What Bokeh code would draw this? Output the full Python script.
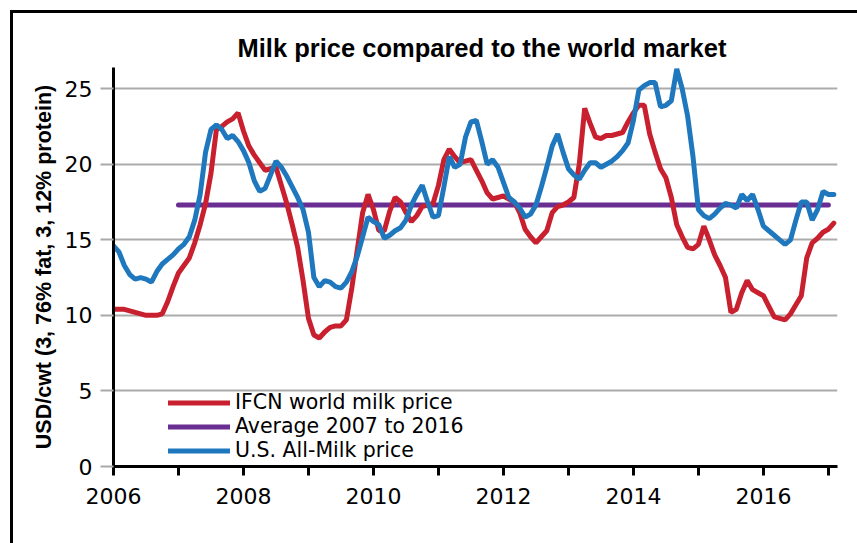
import pandas as pd
from bokeh.plotting import figure
from bokeh.models import (FixedTicker, Legend, LegendItem, Range1d, InlineStyleSheet)
from bokeh.embed import file_html
from bokeh.resources import INLINE

# ---- data -------------------------------------------------------------
months = pd.date_range("2006-01-01", periods=134, freq="MS")
years = [d.year + (d.month - 1) / 12 for d in months]

ifcn_price = [
    10.4, 10.4, 10.4, 10.3, 10.2, 10.1, 10.0, 10.0, 10.0, 10.1, 10.9, 11.9,   # 2006
    12.8, 13.3, 13.8, 14.8, 16.0, 17.4, 19.4, 22.3, 22.5, 22.8, 23.0, 23.4,   # 2007
    22.2, 21.2, 20.6, 20.1, 19.6, 19.7, 19.8, 18.6, 17.4, 16.0, 14.5, 12.3,   # 2008
    9.8, 8.7, 8.5, 8.9, 9.2, 9.3, 9.3, 9.7, 11.8, 14.3, 16.8, 18.0,           # 2009
    17.0, 15.6, 15.6, 16.9, 17.8, 17.5, 16.8, 16.2, 16.6, 17.2, 17.3, 17.4,   # 2010
    18.6, 20.3, 21.0, 20.5, 20.1, 20.2, 20.3, 19.6, 18.9, 18.1, 17.7, 17.8,   # 2011
    17.9, 17.7, 17.5, 16.8, 15.7, 15.2, 14.8, 15.2, 15.6, 16.8, 17.2, 17.3,   # 2012
    17.5, 17.8, 20.0, 23.7, 22.7, 21.8, 21.7, 21.9, 21.9, 22.0, 22.1, 22.8,   # 2013
    23.4, 23.9, 23.9, 22.0, 20.8, 19.7, 19.1, 17.8, 16.0, 15.2, 14.5, 14.4,   # 2014
    14.7, 15.9, 15.0, 14.0, 13.3, 12.5, 10.2, 10.4, 11.5, 12.3, 11.7, 11.5,   # 2015
    11.3, 10.6, 9.9, 9.8, 9.7, 10.1, 10.7, 11.3, 13.8, 14.8, 15.1, 15.5,      # 2016
    15.7, 16.1,                                                               # 2017
]

us_all_milk = [
    14.6, 14.2, 13.3, 12.7, 12.4, 12.5, 12.4, 12.2, 12.9, 13.4, 13.7, 14.0,   # 2006
    14.4, 14.7, 15.2, 16.3, 18.0, 20.8, 22.3, 22.6, 22.3, 21.7, 21.9, 21.5,   # 2007
    20.9, 20.1, 18.9, 18.2, 18.4, 19.3, 20.2, 19.8, 19.2, 18.5, 17.8, 17.0,   # 2008
    15.5, 12.5, 11.9, 12.3, 12.2, 11.9, 11.8, 12.2, 12.9, 13.9, 15.2, 16.5,   # 2009
    16.2, 16.0, 15.1, 15.3, 15.6, 15.8, 16.3, 17.3, 18.0, 18.6, 17.5, 16.5,   # 2010
    16.6, 18.5, 20.5, 19.8, 20.0, 21.8, 22.8, 22.9, 21.5, 20.0, 20.3, 19.8,   # 2011
    18.8, 17.8, 17.5, 17.1, 16.5, 16.7, 17.3, 18.5, 19.8, 21.2, 22.0, 20.8,   # 2012
    19.7, 19.3, 19.0, 19.6, 20.1, 20.1, 19.8, 20.0, 20.2, 20.5, 20.9, 21.4,   # 2013
    22.9, 24.9, 25.2, 25.4, 25.4, 23.8, 23.9, 24.2, 26.3, 25.0, 23.2, 20.5,   # 2014
    17.0, 16.6, 16.4, 16.7, 17.1, 17.4, 17.3, 17.1, 18.0, 17.6, 18.0, 17.0,   # 2015
    15.9, 15.6, 15.3, 15.0, 14.7, 15.0, 16.3, 17.5, 17.5, 16.3, 17.0, 18.2,   # 2016
    18.0, 18.0,                                                               # 2017
]

avg_years = [2007.0, 2017.0]
avg_price = [17.3, 17.3]

x_major_ticks = [2006, 2008, 2010, 2012, 2014, 2016]
x_minor_ticks = [2007, 2009, 2011, 2013, 2015, 2017]
y_ticks = [0, 5, 10, 15, 20, 25]

RED = "#C8202F"
BLUE = "#1F78BE"
PURPLE = "#6A2D91"
FONT = "DejaVu Sans"
BOLD_FONT = "Liberation Sans"

# ---- figure -----------------------------------------------------------
p = figure(width=857, height=543, output_backend="svg", toolbar_location=None,
           x_range=Range1d(2006, 2017.14), y_range=Range1d(0, 26.4),
           min_border_left=113, min_border_right=20, min_border_top=67,
           min_border_bottom=77,
           title="Milk price compared to the world market")
p.outline_line_color = None
p.background_fill_color = "white"
p.border_fill_color = "white"

p.title.align = "left"
p.title.offset = 124
p.title.text_font = BOLD_FONT
p.title.text_font_size = "25.5px"
p.title.text_font_style = "bold"
p.title.text_color = "black"
p.title.standoff = 11

# x axis
xa = p.xaxis[0]
xa.ticker = FixedTicker(ticks=x_major_ticks, minor_ticks=x_minor_ticks)
xa.axis_line_width = 3
xa.axis_line_color = "black"
xa.major_tick_line_width = 3
xa.minor_tick_line_width = 3
xa.major_tick_line_color = "black"
xa.minor_tick_line_color = "black"
xa.major_tick_in = 0
xa.major_tick_out = 9
xa.minor_tick_in = 0
xa.minor_tick_out = 9
xa.major_label_text_font = FONT
xa.major_label_text_font_size = "22px"
xa.major_label_text_color = "black"
xa.major_label_standoff = 12

# y axis
ya = p.yaxis[0]
ya.ticker = FixedTicker(ticks=y_ticks, minor_ticks=[])
ya.axis_line_width = 3
ya.axis_line_color = "black"
ya.major_tick_in = 0
ya.major_tick_out = 13
ya.major_tick_line_color = "#a9a9a9"
ya.major_tick_line_width = 2
ya.minor_tick_line_color = None
ya.major_label_text_font = FONT
ya.major_label_text_font_size = "22px"
ya.major_label_text_color = "black"
ya.major_label_standoff = 8
ya.axis_label = "USD/cwt (3, 76% fat, 3, 12% protein)"
ya.axis_label_text_font = BOLD_FONT
ya.axis_label_text_font_size = "21.5px"
ya.axis_label_text_font_style = "bold"
ya.axis_label_text_color = "black"
ya.axis_label_standoff = 6

p.xgrid.grid_line_color = None
p.ygrid.ticker = FixedTicker(ticks=[5, 10, 15, 20, 25])
p.ygrid.grid_line_color = "#ababab"
p.ygrid.grid_line_width = 2

# ---- lines ------------------------------------------------------------
r_avg = p.line(avg_years, avg_price, line_color=PURPLE, line_width=5,
               line_cap="round")
r_ifcn = p.line(years, ifcn_price, line_color=RED, line_width=5,
                line_cap="round")
r_us = p.line(years, us_all_milk, line_color=BLUE, line_width=5,
              line_cap="round")

legend = Legend(items=[
    LegendItem(label="IFCN world milk price", renderers=[r_ifcn]),
    LegendItem(label="Average 2007 to 2016", renderers=[r_avg]),
    LegendItem(label="U.S. All-Milk price", renderers=[r_us]),
], location=(55, 4))
legend.background_fill_alpha = 0
legend.border_line_color = None
legend.padding = 0
legend.margin = 0
legend.spacing = 0
legend.glyph_width = 62
legend.glyph_height = 23
legend.label_height = 23
legend.label_standoff = 5
legend.label_text_font = FONT
legend.label_text_font_size = "20.5px"
legend.label_text_color = "black"
p.add_layout(legend, "center")

# outer frame line (cropped at right and bottom, like the reference)
p.stylesheets = [InlineStyleSheet(css=""":host::after {
  content: "";
  position: absolute;
  left: 10px; top: 10px; right: 0; bottom: 0;
  border-left: 3px solid black;
  border-top: 3px solid black;
  pointer-events: none;
  z-index: 100;
}""")]

open("out.html", "w").write(file_html(p, INLINE))
